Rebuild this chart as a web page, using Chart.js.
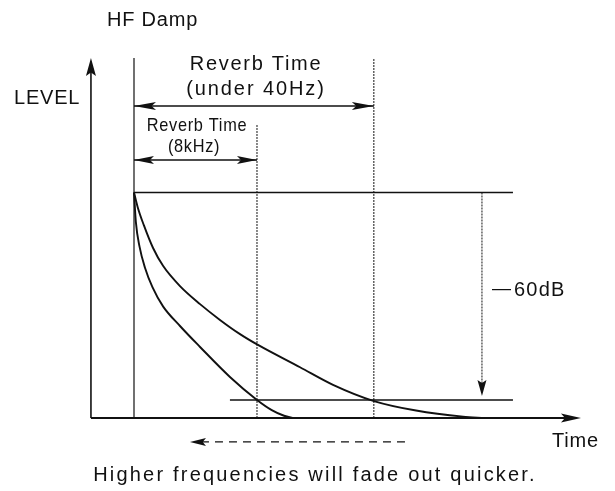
<!DOCTYPE html>
<html>
<head>
<meta charset="utf-8">
<title>HF Damp</title>
<script src="https://cdn.jsdelivr.net/npm/chart.js@4/dist/chart.umd.min.js"></script>
<style>
  html, body { margin: 0; padding: 0; background: #fff; }
  #wrap { width: 615px; height: 491px; position: relative; }
</style>
</head>
<body>
<div id="wrap"><canvas id="decay"></canvas></div>
<script>
// time in units of the 8kHz reverb time, level linear (1 = initial, 0 = floor)
const rt8k = 1.0;
const rt40 = 1.95;
const levelTop = 1.0;
const level60 = 0.08;

// decay curve, under 40Hz
const time40 = [0, 0.03, 0.08, 0.154, 0.236, 0.374, 0.537, 0.699, 0.862, 1.008, 1.35, 1.618, 1.951, 2.293, 2.675, 2.85];
const level40 = [1.0, 0.935, 0.855, 0.755, 0.675, 0.585, 0.505, 0.435, 0.372, 0.324, 0.225, 0.147, 0.075, 0.033, 0.006, 0];

// decay curve, 8kHz
const time8k = [0, 0.015, 0.045, 0.09, 0.15, 0.236, 0.374, 0.537, 0.78, 1.0, 1.12, 1.22, 1.30];
const level8k = [1.0, 0.87, 0.76, 0.665, 0.58, 0.495, 0.408, 0.315, 0.182, 0.08, 0.035, 0.01, 0];

const axisX = -0.35;
const axisTop = 1.596;
const axisEnd = 3.634;
const refEnd = 3.081;

function pts(xs, ys) {
  return xs.map((x, i) => ({ x: x, y: ys[i] }));
}

function seg(x0, y0, x1, y1, width, dash) {
  return {
    data: [{ x: x0, y: y0 }, { x: x1, y: y1 }],
    showLine: true,
    borderColor: '#111',
    borderWidth: width,
    borderDash: dash || [],
    pointRadius: 0,
    fill: false
  };
}

// arrow heads: [tailX, tailY, tipX, tipY, length, halfWidth]
const heads = [
  [axisX, 0, axisX, axisTop, 18, 5],
  [axisX, 0, axisEnd, 0, 20, 4.5],
  [rt40, 1.384, 0, 1.384, 22, 4],
  [0, 1.384, rt40, 1.384, 22, 4],
  [rt8k, 1.144, 0, 1.144, 20, 4],
  [0, 1.144, rt8k, 1.144, 20, 4],
  [2.829, levelTop, 2.829, 0.098, 16, 4.5],
  [2.203, -0.106, 0.455, -0.106, 16, 4]
];

const texts = [
  { s: 'HF Damp', x: 107, y: 20, size: 20, align: 'left' },
  { s: 'LEVEL', x: 14, y: 98, size: 20, align: 'left' },
  { s: 'Reverb Time', x: 256, y: 64, size: 20, align: 'center', spacing: 1.7 },
  { s: '(under 40Hz)', x: 256, y: 89, size: 20, align: 'center', spacing: 1.9 },
  { s: 'Reverb Time', x: 197, y: 126, size: 19, align: 'center', squeeze: 0.86 },
  { s: '(8kHz)', x: 194, y: 147, size: 19, align: 'center', squeeze: 0.86 },
  { s: '\u2014', x: 492, y: 289, size: 19, align: 'left', spacing: 0 },
  { s: '60dB', x: 514, y: 290, size: 20, align: 'left', spacing: 1.2 },
  { s: 'Time', x: 552, y: 441, size: 20, align: 'left' },
  { s: 'Higher frequencies will fade out quicker.', x: 315, y: 475, size: 20, align: 'center', spacing: 2.2 }
];

const decorations = {
  id: 'decorations',
  afterDatasetsDraw(chart) {
    const { ctx, scales: { x, y } } = chart;
    ctx.save();
    ctx.fillStyle = '#111';
    heads.forEach(h => {
      const x0 = x.getPixelForValue(h[0]), y0 = y.getPixelForValue(h[1]);
      const x1 = x.getPixelForValue(h[2]), y1 = y.getPixelForValue(h[3]);
      const d = Math.hypot(x1 - x0, y1 - y0);
      const ux = (x1 - x0) / d, uy = (y1 - y0) / d;
      const bx = x1 - ux * h[4], by = y1 - uy * h[4];
      ctx.beginPath();
      ctx.moveTo(x1, y1);
      ctx.lineTo(bx - uy * h[5], by + ux * h[5]);
      ctx.lineTo(x1 - ux * h[4] * 0.8, y1 - uy * h[4] * 0.8);
      ctx.lineTo(bx + uy * h[5], by - ux * h[5]);
      ctx.closePath();
      ctx.fill();
    });
    ctx.textBaseline = 'middle';
    texts.forEach(t => {
      ctx.save();
      ctx.font = t.size + 'px "Liberation Sans", Arial, sans-serif';
      ctx.letterSpacing = (t.spacing !== undefined ? t.spacing : 0.8) + 'px';
      ctx.textAlign = t.align;
      ctx.translate(t.x, t.y);
      ctx.scale(t.squeeze || 1, 1);
      ctx.fillText(t.s, 0, 0);
      ctx.restore();
    });
    ctx.restore();
  }
};

new Chart(document.getElementById('decay'), {
  type: 'scatter',
  data: {
    datasets: [
      {
        data: pts(time40, level40),
        showLine: true,
        borderColor: '#111',
        borderWidth: 1.9,
        pointRadius: 0,
        cubicInterpolationMode: 'monotone'
      },
      {
        data: pts(time8k, level8k),
        showLine: true,
        borderColor: '#111',
        borderWidth: 1.9,
        pointRadius: 0,
        cubicInterpolationMode: 'monotone'
      },
      seg(axisX, 0, axisX, axisTop - 0.05, 1.6),
      seg(axisX, 0, axisEnd - 0.05, 0, 1.9),
      seg(0, 0, 0, axisTop, 1.2),
      seg(rt8k, 0, rt8k, 1.3, 1, [2, 1]),
      seg(rt40, 0, rt40, axisTop, 1, [2, 1]),
      seg(0, levelTop, refEnd, levelTop, 1.5),
      seg(0.78, level60, refEnd, level60, 1.5),
      seg(0, 1.384, rt40, 1.384, 1.5),
      seg(0, 1.144, rt8k, 1.144, 1.5),
      seg(2.829, levelTop, 2.829, 0.13, 1, [2, 1]),
      seg(2.203, -0.106, 0.5, -0.106, 1.3, [8, 6])
    ]
  },
  options: {
    responsive: true,
    maintainAspectRatio: false,
    animation: false,
    layout: { padding: 0 },
    plugins: { legend: { display: false }, tooltip: { enabled: false } },
    scales: {
      x: { type: 'linear', display: false, min: -1.08943, max: 3.91057 },
      y: { type: 'linear', display: false, min: -0.32373, max: 1.85366 }
    }
  },
  plugins: [decorations]
});
</script>
</body>
</html>
